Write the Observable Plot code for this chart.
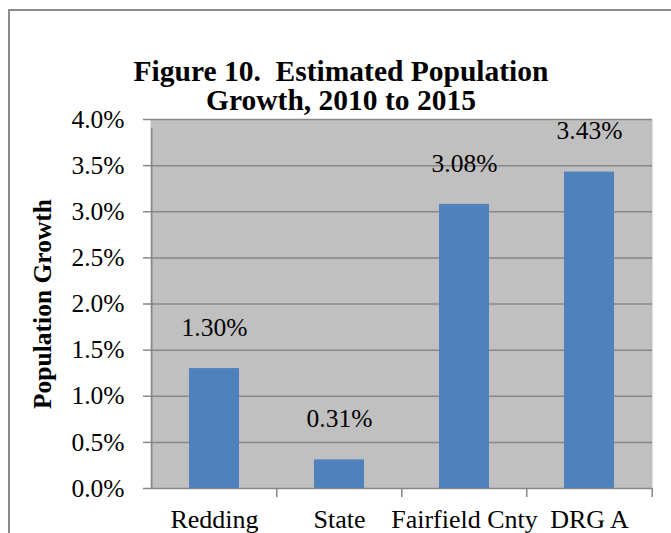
<!DOCTYPE html>
<html>
<head>
<meta charset="utf-8">
<script src="https://cdn.jsdelivr.net/npm/d3@7"></script>
<script src="https://cdn.jsdelivr.net/npm/@observablehq/plot@0.6"></script>
<style>
  html, body { margin: 0; padding: 0; background: #fff; }
  #chart { position: relative; width: 671px; height: 533px; overflow: hidden; background: #fff; }
  #border { position: absolute; left: 8px; top: 9px; width: 720px; height: 620px; border: 2px solid #8c8c8c; box-sizing: border-box; }
  #title { position: absolute; left: 9px; width: 664px; top: 57px; text-align: center;
           font-family: "Liberation Serif", "Times New Roman", serif; font-weight: bold; font-size: 29.5px; line-height: 29px; color: #000; }
  #plot { position: absolute; left: 0; top: 0; }
  #plot svg g[aria-label="y-axis label"] text { font-weight: bold; }
  #plot svg g[aria-label="x-axis tick label"] text { font-size: 26px; }
</style>
</head>
<body>
<div id="chart">
  <div id="border"></div>
  <div id="title">Figure 10.&nbsp; Estimated Population<br>Growth, 2010 to 2015</div>
  <div id="plot"></div>
</div>
<script>
// Estimated population growth 2010 to 2015, in percent
const categories = ["Redding", "State", "Fairfield Cnty", "DRG A"];
const growth = [1.30, 0.31, 3.08, 3.43];
const yTicks = [0, 0.5, 1.0, 1.5, 2.0, 2.5, 3.0, 3.5, 4.0];

const rows = categories.map((c, i) => ({category: c, value: growth[i]}));

const W = 671, H = 533;
const mL = 150, mR = 19, mT = 119, mB = 45;
const step = (W - mL - mR) / categories.length; // width of one category slot
const gridColor = "#878787";

const chart = Plot.plot({
  width: W,
  height: H,
  marginLeft: mL,
  marginRight: mR,
  marginTop: mT,
  marginBottom: mB,
  style: {fontFamily: "'Liberation Serif', 'Times New Roman', serif", fontSize: "25.5px", color: "#000", background: "transparent"},
  x: {type: "band", domain: categories, paddingInner: 0.6, paddingOuter: 0.3},
  y: {domain: [0, 4]},
  marks: [
    Plot.frame({fill: "#c0c0c0", stroke: null}),
    Plot.gridY(yTicks, {stroke: gridColor, strokeOpacity: 1, strokeWidth: 1.5}),
    Plot.barY(rows, {x: "category", y: "value", fill: "#4f81bd"}),
    // left axis line, running down past the baseline as the first tick
    Plot.ruleX([categories[0]], {x: d => d, y1: 0, y2: 4, dx: -step / 2, insetBottom: -9, stroke: gridColor, strokeWidth: 1.5}),
    // category boundary ticks below the baseline
    Plot.ruleX(categories.slice(1), {x: d => d, y1: 0, y2: 0, dx: -step / 2, insetBottom: -9, stroke: gridColor, strokeWidth: 1.5}),
    Plot.ruleX([categories[categories.length - 1]], {x: d => d, y1: 0, y2: 0, dx: step / 2, insetBottom: -9, stroke: gridColor, strokeWidth: 1.5}),
    Plot.axisY(yTicks, {
      tickSize: 7, tickPadding: 19, stroke: gridColor, strokeWidth: 1.5, fill: "#000",
      tickFormat: d => d.toFixed(1) + "%",
      label: "Population Growth", labelAnchor: "center", labelOffset: 118, labelArrow: "none"
    }),
    Plot.axisX({tickSize: 0, tickPadding: 21, fill: "#000", label: null}),
    Plot.text(rows, {
      x: "category", y: "value", text: d => d.value.toFixed(2) + "%",
      lineAnchor: "middle", dy: -41, fill: "#000"
    })
  ]
});

document.getElementById("plot").appendChild(chart);
</script>
</body>
</html>
